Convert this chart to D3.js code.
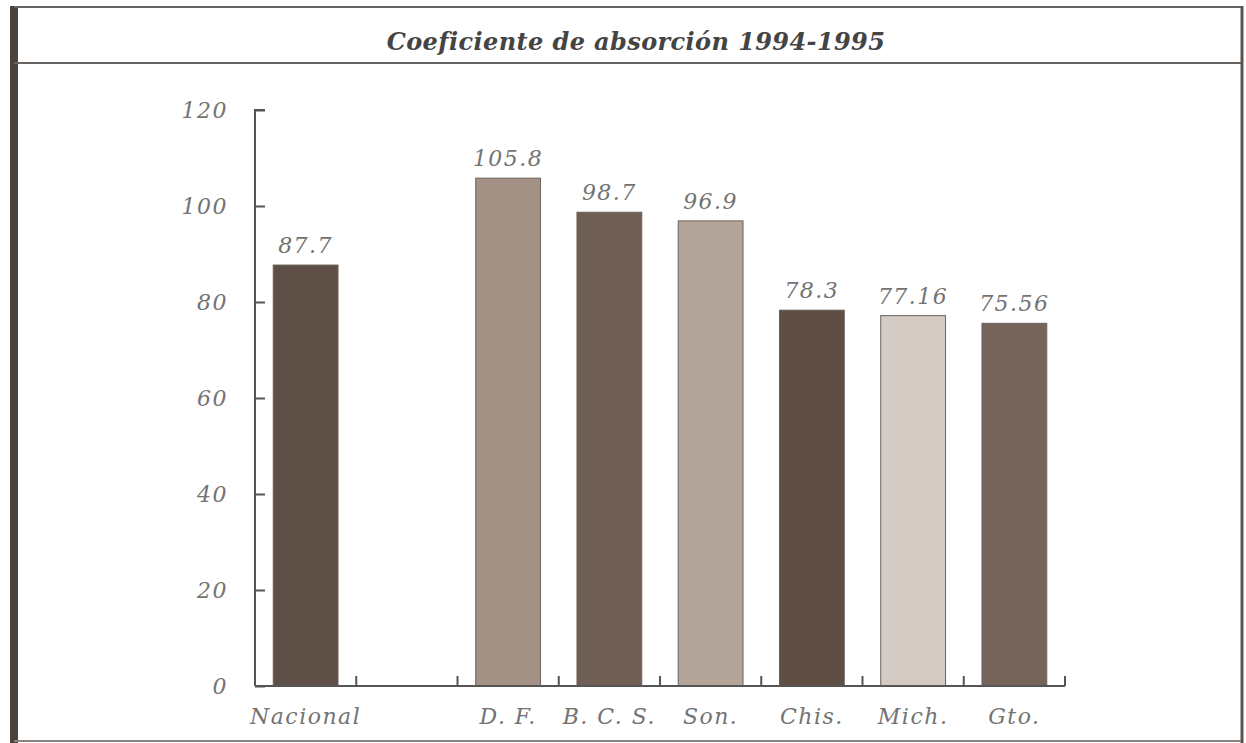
<!DOCTYPE html>
<html>
<head>
<meta charset="utf-8">
<script src="https://cdn.jsdelivr.net/npm/d3@7"></script>
<style>
  body { margin: 0; background: #fff; }
  svg { display: block; }
</style>
</head>
<body>
<svg id="chart"></svg>
<script>
// categories (the empty slot keeps the gap after "Nacional")
const categories = ["Nacional", "", "D. F.", "B. C. S.", "Son.", "Chis.", "Mich.", "Gto."];
const values = [87.7, null, 105.8, 98.7, 96.9, 78.3, 77.16, 75.56];
const valueLabels = ["87.7", "", "105.8", "98.7", "96.9", "78.3", "77.16", "75.56"];
const barColors = ["#5e5047", null, "#a39186", "#6f5e53", "#b3a599", "#5e4e44", "#d4cbc5", "#74645a"];
const yTicks = [0, 20, 40, 60, 80, 100, 120];
const title = "Coeficiente de absorción 1994-1995";

const w = 1246;
const h = 743;
const plotL = 255, plotR = 1065, plotT = 110, plotB = 686;

const svg = d3.select("#chart")
  .attr("width", w)
  .attr("height", h);

// frame and title box
svg.append("rect").attr("x", 10).attr("y", 6).attr("width", 8).attr("height", 737).attr("fill", "#4a433e");
svg.append("line").attr("x1", 14).attr("x2", 1241).attr("y1", 7).attr("y2", 7)
  .attr("stroke", "#6a6460").attr("stroke-width", 2);
svg.append("line").attr("x1", 14).attr("x2", 1241).attr("y1", 63).attr("y2", 63)
  .attr("stroke", "#6a6460").attr("stroke-width", 2);
svg.append("line").attr("x1", 1242).attr("x2", 1242).attr("y1", 6).attr("y2", 743)
  .attr("stroke", "#5a544f").attr("stroke-width", 3);
svg.append("line").attr("x1", 14).attr("x2", 1241).attr("y1", 741).attr("y2", 741)
  .attr("stroke", "#8a8480").attr("stroke-width", 2);

svg.append("text")
  .attr("x", 636).attr("y", 50)
  .attr("text-anchor", "middle")
  .attr("font-family", "DejaVu Serif")
  .attr("font-style", "italic")
  .attr("font-weight", "bold")
  .attr("font-size", 24)
  .attr("letter-spacing", 0.4)
  .attr("fill", "#444")
  .text(title);

const xScale = d3.scaleBand()
  .domain(d3.range(categories.length))
  .range([plotL, plotR])
  .paddingInner(0.36)
  .paddingOuter(0.18);

const yScale = d3.scaleLinear()
  .domain([0, 120])
  .range([plotB, plotT]);

const data = categories.map((c, i) => ({ i, c, v: values[i], label: valueLabels[i], color: barColors[i] }))
  .filter(d => d.v !== null);

const labelFont = sel => sel
  .attr("font-family", "DejaVu Serif")
  .attr("font-style", "italic")
  .attr("font-size", 22)
  .attr("letter-spacing", 1.5)
  .attr("fill", "#737373");

// bars
svg.selectAll("rect.bar")
  .data(data)
  .enter()
  .append("rect")
  .attr("class", "bar")
  .attr("x", d => xScale(d.i))
  .attr("y", d => yScale(d.v))
  .attr("width", xScale.bandwidth())
  .attr("height", d => yScale(0) - yScale(d.v))
  .attr("fill", d => d.color)
  .attr("stroke", "#6b625c")
  .attr("stroke-width", 1);

// value labels
svg.selectAll("text.val")
  .data(data)
  .enter()
  .append("text")
  .attr("class", "val")
  .attr("x", d => xScale(d.i) + xScale.bandwidth() / 2)
  .attr("y", d => yScale(d.v) - 12)
  .attr("text-anchor", "middle")
  .call(labelFont)
  .text(d => d.label);

// y axis
const yAxis = d3.axisRight(yScale).tickValues(yTicks).tickSize(10).tickFormat("");
const gy = svg.append("g")
  .attr("transform", "translate(" + plotL + ",0)")
  .call(yAxis);
gy.selectAll("path, line").attr("stroke", "#555").attr("stroke-width", 2);
gy.select(".domain").attr("d", "M10," + plotT + "H0V" + plotB);

svg.selectAll("text.ytick")
  .data(yTicks)
  .enter()
  .append("text")
  .attr("class", "ytick")
  .attr("x", 228)
  .attr("y", d => yScale(d) + 8)
  .attr("text-anchor", "end")
  .call(labelFont)
  .text(d => d);

// x axis with ticks at band boundaries pointing up
const boundaries = d3.range(1, categories.length + 1).map(k => plotL + k * ((plotR - plotL) / categories.length));
const gx = svg.append("g");
gx.append("line")
  .attr("x1", plotL).attr("x2", plotR)
  .attr("y1", plotB).attr("y2", plotB)
  .attr("stroke", "#555").attr("stroke-width", 2);
gx.selectAll("line.t")
  .data(boundaries)
  .enter()
  .append("line")
  .attr("class", "t")
  .attr("x1", d => d).attr("x2", d => d)
  .attr("y1", plotB).attr("y2", plotB - 10)
  .attr("stroke", "#555").attr("stroke-width", 2);

svg.selectAll("text.cat")
  .data(categories.map((c, i) => ({ c, i })).filter(d => d.c !== ""))
  .enter()
  .append("text")
  .attr("class", "cat")
  .attr("x", d => xScale(d.i) + xScale.bandwidth() / 2)
  .attr("y", 724)
  .attr("text-anchor", "middle")
  .call(labelFont)
  .text(d => d.c);
</script>
</body>
</html>
